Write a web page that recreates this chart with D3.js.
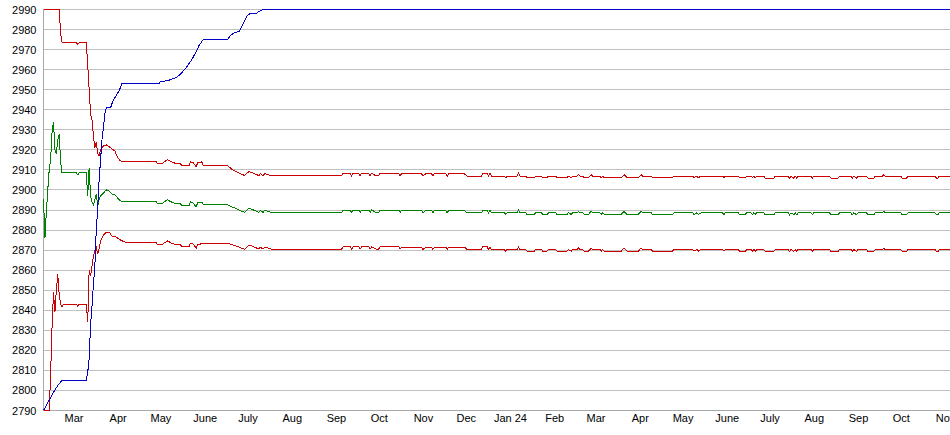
<!DOCTYPE html>
<html><head><meta charset="utf-8">
<script src="https://cdn.jsdelivr.net/npm/d3@7"></script>
<style>html,body{margin:0;padding:0;background:#fff;} svg{display:block;}</style>
</head><body><svg id="chart" width="950" height="435"></svg>
<script>
// ---- data ----
const startDate = "2023-02-08";           // day 0 of the series
const bandDays = [
  0,1,2,3,4,5,6,7,8,9,
  10,11,12,13,14,23,24,25,30,31,
  32,33,34,35,36,37,38,39,40,42,
  44,46,48,50,52,54,56,58,79,80,
  83,85,87,89,93,96,97,102,103,105,
  107,108,110,111,112,129,132,134,137,141,
  144,148,151,152,154,155,160,209,210,215,
  216,217,221,222,223,228,229,230,233,235,
  236,249,250,251,265,266,268,272,273,274,
  282,283,284,295,297,307,308,311,312,313,
  314,323,324,325,332,333,334,338,339,344,
  345,349,350,353,354,359,360,367,368,370,
  371,374,375,376,378,379,382,383,384,385,
  390,391,392,393,395,405,406,407,408,409,
  417,418,419,420,426,427,441,442,455,456,
  458,459,461,476,477,478,487,488,492,493,
  496,497,498,499,500,502,505,506,512,513,
  522,523,524,526,527,528,529,538,539,540,
  551,552,557,558,566,567,568,570,571,577,
  578,582,583,588,589,590,601,602,605,606,
  625,626,627,628,636
];
const greenValues = [
  2895.5,2876,2889,2900,2910,2915,2929,2934,2920,2918,
  2925,2928,2914,2908.5,2908.5,2908.5,2907.5,2908.5,2908.5,2897,
  2911,2897,2894,2892.5,2895,2898,2892,2895.5,2897,2898.5,
  2900,2899.5,2898,2897.5,2896,2894.5,2894.3,2894.2,2894.2,2893.1,
  2893.1,2894.2,2895.1,2894.2,2893.1,2893.1,2892.2,2892.2,2894,2893.5,
  2891.5,2893.5,2893.5,2894,2892.7,2892.7,2891.5,2891,2890,2888.8,
  2890.9,2889.8,2888.8,2889.8,2888.8,2889.8,2888.8,2888.8,2890,2890,
  2888.8,2890,2890,2888.8,2890,2890,2888.8,2890,2888.8,2888.8,
  2890,2890,2888.8,2889.8,2889.8,2888.6,2889.8,2889.8,2888.6,2889.8,
  2889.8,2888.6,2889.8,2889.8,2888.6,2888.6,2890,2890,2888.6,2890,
  2888.6,2888.6,2887.8,2888.6,2888.6,2890,2888.6,2888.6,2887.8,2887.8,
  2888.6,2888.6,2887.8,2887.8,2888.6,2888.6,2887.8,2887.8,2888.6,2887.8,
  2888.6,2888.6,2889.3,2888.6,2888.6,2887.8,2887.8,2888.6,2889.3,2888.6,
  2888.6,2887.8,2888.6,2887.8,2887.8,2887.8,2888.6,2889.3,2888.6,2887.8,
  2887.8,2888.6,2889.3,2888.6,2888.6,2887.8,2887.8,2888.6,2888.6,2887.8,
  2888.6,2887.8,2888.6,2888.6,2887.8,2888.6,2888.6,2887.8,2887.8,2888.6,
  2888.6,2887.8,2888.6,2887.8,2888.6,2888.6,2888.6,2887.6,2887.6,2888.6,
  2888.6,2887.6,2888.6,2887.6,2888.6,2887.6,2888.6,2888.6,2887.6,2888.6,
  2888.6,2887.6,2887.6,2888.6,2888.6,2887.6,2888.6,2887.6,2888.6,2888.6,
  2887.6,2887.6,2888.6,2888.6,2889.3,2888.6,2888.6,2887.6,2887.6,2888.6,
  2888.6,2887.6,2887.6,2888.6,2888.6
];
const upperValues = [
  2990,2990,2990,2990,2990,2990,2990,2990,2990,2990,
  2990,2990,2978,2973.5,2973.5,2973.5,2972.5,2973.5,2973.5,2962,
  2950,2938,2935,2927,2921,2924,2918,2917,2920,2922,
  2922.5,2921.5,2920.5,2919.5,2916,2914.5,2914.3,2914.2,2914.2,2913.1,
  2913.1,2914.2,2915.1,2914.2,2913.1,2913.1,2912.2,2912.2,2914,2913.5,
  2911.5,2913.5,2913.5,2914,2912.2,2912.2,2910.3,2909.6,2908.5,2907.2,
  2909.2,2908.1,2907.1,2908.1,2907.1,2908.1,2907.1,2907.1,2908.3,2908.3,
  2907.1,2908.3,2908.3,2907.1,2908.3,2908.3,2907.1,2908.3,2907.1,2907.1,
  2908.3,2908.3,2907.1,2908.1,2908.1,2906.9,2908.1,2908.1,2906.9,2908.1,
  2908.1,2906.9,2908.1,2908.1,2906.9,2906.9,2908.3,2908.3,2906.9,2908.3,
  2906.9,2906.9,2906.1,2906.9,2906.9,2908.3,2906.9,2906.9,2906.1,2906.1,
  2906.9,2906.9,2906.1,2906.1,2906.9,2906.9,2906.1,2906.1,2906.9,2906.1,
  2906.9,2906.9,2907.6,2906.9,2906.9,2906.1,2906.1,2906.9,2907.6,2906.9,
  2906.9,2906.1,2906.9,2906.1,2906.1,2906.1,2906.9,2907.6,2906.9,2906.1,
  2906.1,2906.9,2907.6,2906.9,2906.9,2906.1,2906.1,2906.9,2906.9,2906.1,
  2906.9,2906.1,2906.9,2906.9,2906.1,2906.9,2906.9,2906.1,2906.1,2906.9,
  2906.9,2906.1,2906.9,2906.1,2906.9,2906.9,2906.9,2905.9,2905.9,2906.9,
  2906.9,2905.9,2906.9,2905.9,2906.9,2905.9,2906.9,2906.9,2905.9,2906.9,
  2906.9,2905.9,2905.9,2906.9,2906.9,2905.9,2906.9,2905.9,2906.9,2906.9,
  2905.9,2905.9,2906.9,2906.9,2907.6,2906.9,2906.9,2905.9,2905.9,2906.9,
  2906.9,2905.9,2905.9,2906.9,2906.9
];
const lowerValues = [
  2790,2790,2790,2790,2790,2808,2832,2849,2839,2850,
  2858,2848,2843,2841.5,2843,2843,2842,2843,2843,2834,
  2860,2857,2862,2867,2870,2871.5,2868,2871,2874.5,2877.5,
  2879,2879,2877,2877,2876,2875,2874.3,2873.7,2873.7,2872.6,
  2872.6,2873.7,2874.6,2873.7,2872.6,2872.6,2871.7,2871.7,2873.5,2873,
  2871,2873,2873,2873.5,2873.5,2873.5,2872.7,2872.4,2871.5,2870.4,
  2872.6,2871.5,2870.5,2871.5,2870.5,2871.5,2870.5,2870.5,2871.7,2871.7,
  2870.5,2871.7,2871.7,2870.5,2871.7,2871.7,2870.5,2871.7,2870.5,2870.5,
  2871.7,2871.7,2870.5,2871.5,2871.5,2870.3,2871.5,2871.5,2870.3,2871.5,
  2871.5,2870.3,2871.5,2871.5,2870.3,2870.3,2871.7,2871.7,2870.3,2871.7,
  2870.3,2870.3,2869.5,2870.3,2870.3,2871.7,2870.3,2870.3,2869.5,2869.5,
  2870.3,2870.3,2869.5,2869.5,2870.3,2870.3,2869.5,2869.5,2870.3,2869.5,
  2870.3,2870.3,2871,2870.3,2870.3,2869.5,2869.5,2870.3,2871,2870.3,
  2870.3,2869.5,2870.3,2869.5,2869.5,2869.5,2870.3,2871,2870.3,2869.5,
  2869.5,2870.3,2871,2870.3,2870.3,2869.5,2869.5,2870.3,2870.3,2869.5,
  2870.3,2869.5,2870.3,2870.3,2869.5,2870.3,2870.3,2869.5,2869.5,2870.3,
  2870.3,2869.5,2870.3,2869.5,2870.3,2870.3,2870.3,2869.3,2869.3,2870.3,
  2870.3,2869.3,2870.3,2869.3,2870.3,2869.3,2870.3,2870.3,2869.3,2870.3,
  2870.3,2869.3,2869.3,2870.3,2870.3,2869.3,2870.3,2869.3,2870.3,2870.3,
  2869.3,2869.3,2870.3,2870.3,2871,2870.3,2870.3,2869.3,2869.3,2870.3,
  2870.3,2869.3,2869.3,2870.3,2870.3
];
const blueDays = [0,7,10,13,30,31,32,33,34,35,36,37,38,39,40,41,42,43,44,47,49,51,53,55,
  81,82,87,91,94,97,100,104,107,109,112,129,131,134,137,139,141,143,145,149,151,154,636];
const blueValues = [2790,2799,2802.5,2805,2805,2809,2816,2833,2842,2853,2862,2880,2891,2905,2915,2925,2931,2938,2941,
  2941,2945,2947,2949.5,2953,2953,2954,2954.5,2955.5,2956.5,2958.5,2961,2965,2969,2972,2975,
  2975,2977,2978.5,2979,2981.5,2984.5,2987,2988,2988,2989,2990,2990];
const yTickValues = [2790,2800,2810,2820,2830,2840,2850,2860,2870,2880,2890,2900,2910,2920,2930,2940,2950,2960,2970,2980,2990];
const monthTicks = ["2023-03-01","2023-04-01","2023-05-01","2023-06-01","2023-07-01","2023-08-01","2023-09-01",
  "2023-10-01","2023-11-01","2023-12-01","2024-01-01","2024-02-01","2024-03-01","2024-04-01","2024-05-01",
  "2024-06-01","2024-07-01","2024-08-01","2024-09-01","2024-10-01","2024-11-01"];
const monthLabels = ["Mar","Apr","May","June","July","Aug","Sep","Oct","Nov","Dec","Jan 24","Feb",
  "Mar","Apr","May","June","July","Aug","Sep","Oct","Nov"];

// ---- chart ----
const W = 950, H = 435;
const parse = d3.utcParse("%Y-%m-%d");
const t0 = parse(startDate);
const dayToDate = d => d3.utcDay.offset(t0, d);
const endDay = 636;
const x = d3.scaleUtc().domain([t0, dayToDate(endDay)]).range([43.5, 43.5 + endDay * 1.4265]);
const y = d3.scaleLinear().domain([2790, 2990]).range([410.5, 9.5]);
const snap = v => Math.round(v - 0.5) + 0.5;

const svg = d3.select("#chart");
svg.append("rect").attr("width", W).attr("height", H).attr("fill", "#fff");

// grid
svg.append("g").selectAll("line").data(yTickValues).join("line")
  .attr("x1", 44).attr("x2", W)
  .attr("y1", d => snap(y(d))).attr("y2", d => snap(y(d)))
  .attr("stroke", "#c0c0c0").attr("stroke-width", 1).attr("shape-rendering", "crispEdges");

// axes lines
svg.append("line").attr("x1", 43.5).attr("x2", 43.5).attr("y1", snap(y(2990)) - 0.5).attr("y2", snap(y(2790)) + 0.5)
  .attr("stroke", "#a8a8a8").attr("shape-rendering", "crispEdges");
svg.append("line").attr("x1", 43.5).attr("x2", W).attr("y1", snap(y(2790))).attr("y2", snap(y(2790)))
  .attr("stroke", "#a8a8a8").attr("shape-rendering", "crispEdges");

// y axis labels
const yAxis = d3.axisLeft(y).tickValues(yTickValues).tickSize(0).tickPadding(7).tickFormat(d3.format("d"));
const gy = svg.append("g").attr("transform", "translate(43.5,0)").call(yAxis);
gy.select(".domain").remove();
gy.selectAll("text").attr("font-family", "'Liberation Sans', Arial, sans-serif").attr("font-size", 11).attr("fill", "#000");

// x axis labels
const xAxis = d3.axisBottom(x).tickValues(monthTicks.map(parse)).tickSize(0).tickPadding(0)
  .tickFormat((d, i) => monthLabels[i]);
const gx = svg.append("g").attr("transform", "translate(0,412)").call(xAxis);
gx.select(".domain").remove();
gx.selectAll("text").attr("font-family", "'Liberation Sans', Arial, sans-serif").attr("font-size", 11)
  .attr("fill", "#000").attr("dy", "0.95em");

// series
const line = d3.line().x(d => x(d.date)).y(d => y(d.v));
const band = vals => bandDays.map((d, i) => ({ date: dayToDate(d), v: vals[i] }));
const series = [
  { data: band(greenValues), color: "#008000" },
  { data: band(upperValues), color: "#cc0000" },
  { data: band(lowerValues), color: "#cc0000" },
  { data: blueDays.map((d, i) => ({ date: dayToDate(d), v: blueValues[i] })), color: "#0000c8" }
];
svg.append("g").selectAll("path").data(series).join("path")
  .attr("d", s => line(s.data))
  .attr("fill", "none").attr("stroke", s => s.color).attr("stroke-width", 1)
  .attr("shape-rendering", "crispEdges");
</script>
</body></html>
